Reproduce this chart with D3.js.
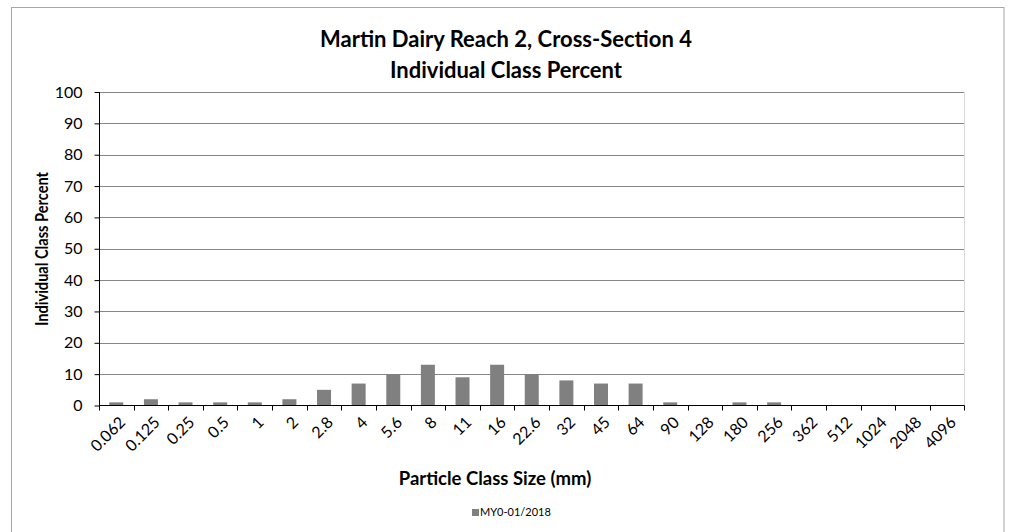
<!DOCTYPE html>
<html><head><meta charset="utf-8">
<script src="https://cdn.jsdelivr.net/npm/d3@7"></script>
<style>body{margin:0;background:#fff}svg{display:block}text{font-family:Lato,"Open Sans",sans-serif}</style>
</head><body><svg id="c" width="1009" height="532"></svg>
<script>
const categories = ["0.062","0.125","0.25","0.5","1","2","2.8","4","5.6","8","11","16","22.6","32","45","64","90","128","180","256","362","512","1024","2048","4096"];
const values = [1,2,1,1,1,2,5,7,10,13,9,13,10,8,7,7,1,0,1,1,0,0,0,0,0];
const yTicks = [0,10,20,30,40,50,60,70,80,90,100];
const seriesName = "MY0-01/2018";
const titleLines = ["Martin Dairy Reach 2, Cross-Section 4","Individual Class Percent"];

const svg = d3.select("#c");
const L=99, R=964.5, T=92, B=405.5;
svg.append("rect").attr("x",11.5).attr("y",7.5).attr("width",992.5).attr("height",540).attr("fill","#fff").attr("stroke","#a6a6a6").attr("stroke-width",1);

const xb = d3.scaleBand().domain(categories).range([L,R]);
const y = d3.scaleLinear().domain([0,100]).range([B,T]);

// gridlines
svg.append("g").selectAll("line").data(yTicks.slice(1)).join("line")
  .attr("x1",L).attr("x2",R).attr("y1",d=>Math.round(y(d))+0.5).attr("y2",d=>Math.round(y(d))+0.5)
  .attr("stroke","#868686").attr("stroke-width",1);
svg.append("line").attr("x1",R).attr("x2",R).attr("y1",T).attr("y2",B).attr("stroke","#d9d9d9");

// bars
svg.append("g").selectAll("rect").data(values).join("rect")
  .attr("x",(d,i)=>xb(categories[i])+xb.bandwidth()/2-7)
  .attr("width",14)
  .attr("y",d=>y(d)).attr("height",d=>B-y(d))
  .attr("fill","#808080");

// y axis
const ya = svg.append("g").attr("transform",`translate(${L+0.5},0)`)
  .call(d3.axisLeft(y).tickValues(yTicks).tickSize(5).tickPadding(12));
ya.select(".domain").attr("stroke","#000").attr("d",`M0,${T}V${B}`);
ya.selectAll(".tick line").attr("stroke","#000");
ya.selectAll(".tick text").attr("font-size",16).attr("fill","#000").attr("font-family","Lato,sans-serif");

// x axis
const xg = svg.append("g").attr("transform",`translate(0,${B})`);
xg.append("line").attr("x1",L).attr("x2",R).attr("stroke","#000");
xg.selectAll("line.tk").data(categories.concat(["end"])).join("line").attr("class","tk")
  .attr("x1",(d,i)=>Math.round(L+i*xb.step())+0.5).attr("x2",(d,i)=>Math.round(L+i*xb.step())+0.5)
  .attr("y1",0).attr("y2",5).attr("stroke","#000");
xg.selectAll("text").data(categories).join("text")
  .attr("transform",d=>`translate(${xb(d)+xb.bandwidth()/2+6},14) rotate(-45)`)
  .attr("text-anchor","end").attr("dy","0.35em")
  .attr("font-size",16).attr("fill","#000").text(d=>d);

// titles
svg.append("text").attr("x",506).attr("y",47).attr("text-anchor","middle").attr("font-size",22).attr("font-weight","bold").text(titleLines[0]);
svg.append("text").attr("x",506).attr("y",78).attr("text-anchor","middle").attr("font-size",22).attr("font-weight","bold").text(titleLines[1]);
svg.append("text").attr("transform","translate(48,249) rotate(-90)").attr("text-anchor","middle").attr("font-size",16.5).attr("font-weight","bold")
  .attr("textLength",154).attr("lengthAdjust","spacingAndGlyphs").text("Individual Class Percent");
svg.append("text").attr("x",495).attr("y",485).attr("text-anchor","middle").attr("font-size",18.5).attr("font-weight","bold").text("Particle Class Size (mm)");

// legend
svg.append("rect").attr("x",472).attr("y",509).attr("width",7).attr("height",7).attr("fill","#808080");
svg.append("text").attr("x",480).attr("y",516).attr("font-size",11).text(seriesName);
</script></body></html>
